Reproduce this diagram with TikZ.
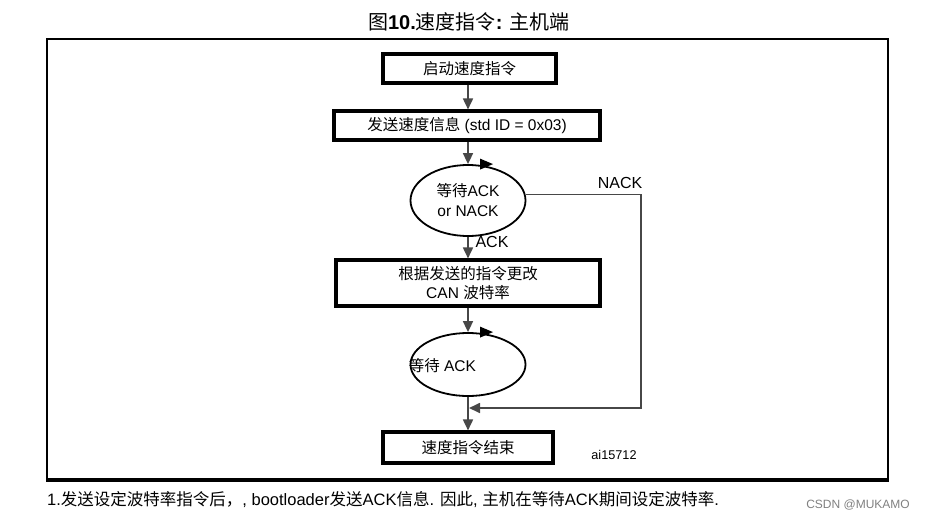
\documentclass[tikz,border=0pt]{standalone}
\usepackage{fontspec}
\setmainfont{Liberation Sans}
\newfontfamily\cjk{Noto Sans CJK SC}
\usetikzlibrary{shapes.geometric,arrows.meta,calc}
\tikzset{
  stepbox/.style={draw=black,line width=3.1pt,inner sep=0pt,align=center,font=\fontsize{15.5}{19}\selectfont},
  waitell/.style={ellipse,draw=black,line width=1.8pt,inner sep=0pt,align=center,minimum width=115pt,font=\fontsize{15.5}{20}\selectfont},
  conn/.style={draw=black!72,line width=1.7pt},
  arr/.style={conn,-{Triangle[length=11pt,width=10pt]}},
  lbl/.style={font=\fontsize{15.5}{18}\selectfont,inner sep=0pt}
}
\begin{document}
\begin{tikzpicture}[x=1pt,y=-1pt]
\useasboundingbox (0,0) rectangle (928,519);
% title
\node[inner sep=0pt,font=\fontsize{20}{24}\selectfont] (title) at (469,22) {{\cjk 图}\textbf{10.}{\cjk 速度指令}\textbf{:} {\cjk 主机端}};
% frame
\draw[line width=1.6pt] (47,480) -- (47,39) -- (888,39) -- (888,480);
\draw[line width=3.5pt] (46.2,480) -- (888.8,480);
% boxes
\node[stepbox,minimum width=173pt,minimum height=29pt] (b1) at (469.5,68.5) {\cjk 启动速度指令};
\node[stepbox,minimum width=266pt,minimum height=29pt] (b2) at (467,125.5) {{\cjk 发送速度信息} (std ID = 0x03)};
\node[waitell,minimum height=71pt] (e1) at (468,200.5) {{\cjk 等待}ACK\\or NACK};
\node[stepbox,minimum width=264pt,minimum height=46pt] (b3) at (468,283) {\cjk 根据发送的指令更改\\CAN {\cjk 波特率}};
\node[waitell,minimum height=63pt,label={[anchor=west,inner sep=0pt,lbl,xshift=-1pt,yshift=-1.5pt]west:{\cjk 等待} ACK}] (e2) at (468,364.5) {};
\node[stepbox,minimum width=170pt,minimum height=31pt] (b4) at (468,447.5) {\cjk 速度指令结束};
% small arrowheads on ellipse tops
\fill ($(e1.north)+(12,-5.5)$) -- ++(13,5.5) -- ++(-13,5.5) -- cycle;
\fill ($(e2.north)+(12,-5.5)$) -- ++(13,5.5) -- ++(-13,5.5) -- cycle;
% connectors
\draw[arr] (e1.north |- b1.south) -- (e1.north |- b2.north);
\draw[arr] (e1.north |- b2.south) -- (e1.north);
\draw[arr] (e1.south) -- (b3.north);
\draw[arr] (b3.south) -- (e2.north);
\draw[arr] (e2.south) -- (b4.north);
\coordinate (nk) at (641,408);
\coordinate (mj) at (469,408);
\draw[arr] ($(e1.east)+(-0.8,-6)$) -| (nk) -- (mj);
% labels
\node[lbl,font=\fontsize{16}{18}\selectfont] (lnack) at (620,183) {NACK};
\node[lbl,font=\fontsize{16}{18}\selectfont] (lack) at (492,242) {ACK};
\node[inner sep=0pt,font=\fontsize{12.7}{14}\selectfont] (ai) at (614,455) {ai15712};
% footnote
\node[anchor=west,inner sep=0pt,font=\fontsize{16.5}{19}\selectfont] (fn) at (47,500) {1.{\cjk 发送设定波特率指令后，}, bootloader{\cjk 发送}ACK{\cjk 信息}. {\cjk 因此}, {\cjk 主机在等待}ACK{\cjk 期间设定波特率}.};
\node[inner sep=0pt,font=\fontsize{12}{14}\selectfont,text=black!50] (csdn) at (858,505) {CSDN @MUKAMO};
\end{tikzpicture}
\end{document}
